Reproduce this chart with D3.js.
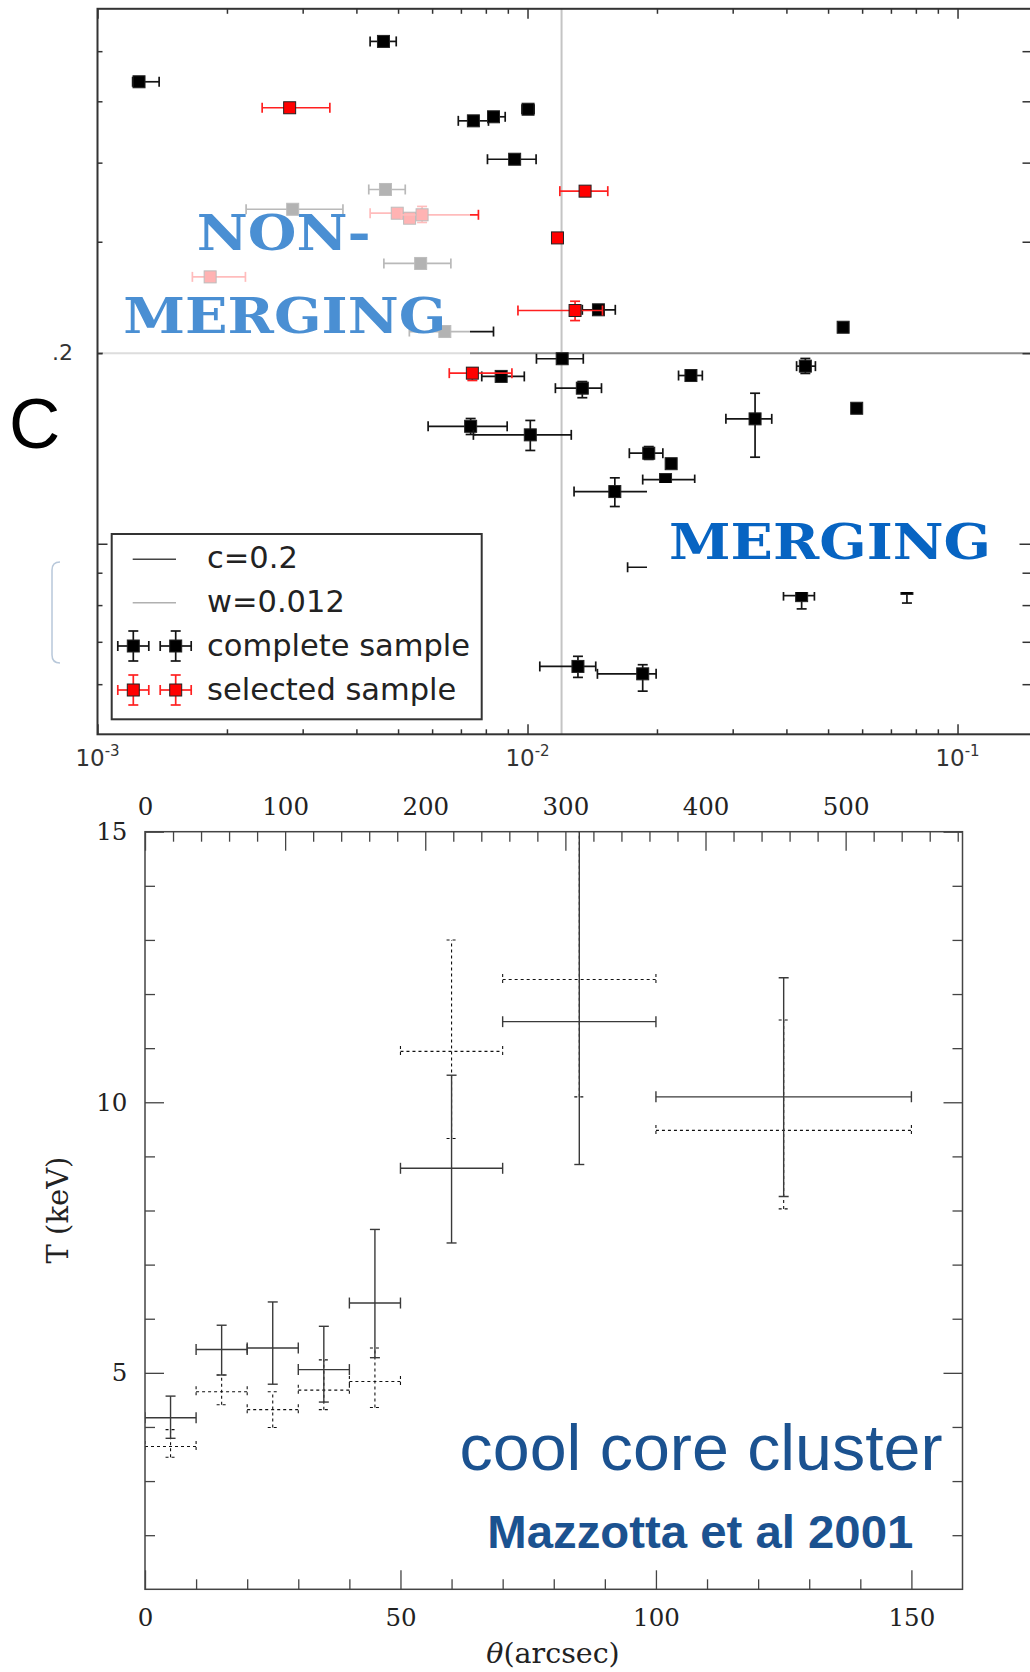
<!DOCTYPE html>
<html><head><meta charset="utf-8">
<script src="https://cdn.jsdelivr.net/npm/d3@7"></script>
<style>body{margin:0;background:#fff;} svg{display:block;}</style>
</head><body>
<svg id="chart" width="1030" height="1672"></svg>
<script>
// ================= TOP PANEL DATA (w vs c, log-log) =================
// each row: [w, wLo, wHi, c, cLo, cHi]   (null = no error bar drawn)
const completeSample = [
  [0.004624, 0.004305, 0.004951, 0.6217, null, null],
  [0.001249, 0.001207, 0.001391, 0.5368, null, null],
  [0.007484, 0.006903, 0.008113, 0.4657, null, null],
  [0.008335, 0.008113, 0.008873, 0.4726, null, null],
  [0.01003, 0.009708, 0.01036, 0.4858, null, null],
  [0.009334, 0.008070, 0.01047, 0.4050, null, null],
  [0.01462, 0.01341, 0.01600, 0.2342, null, null],
  [0.05420, null, null, 0.2198, null, null],
  [0.01204, 0.01049, 0.01348, 0.1960, null, null],
  [0.04427, 0.04224, 0.04672, 0.1908, 0.1858, 0.1962],
  [0.02399, 0.02245, 0.02550, 0.1844, null, null],
  [0.008684, 0.007827, 0.009829, 0.1838, null, null],
  [0.01341, 0.01161, 0.01486, 0.1761, 0.1701, 0.1804],
  [0.03382, 0.02893, 0.03698, 0.1575, 0.1370, 0.1729],
  [0.05828, null, null, 0.1637, null, null],
  [0.007375, 0.005873, 0.008968, 0.1533, 0.1488, 0.1577],
  [0.01015, 0.007484, 0.01264, 0.1486, 0.1404, 0.1566],
  [0.01914, 0.01725, 0.02064, 0.1390, 0.1359, 0.1424],
  [0.02158, null, null, 0.1338, null, null],
  [0.02094, 0.01853, 0.02448, 0.1263, null, null],
  [0.01596, 0.01283, 0.01911, 0.1209, 0.1145, 0.1271],
  [0.02064, 0.01709, 0.02492, 0.0918, null, null],
  [0.04340, 0.03938, 0.04647, 0.0828, 0.0789, 0.0853],
  [0.07627, null, null, 0.0850, 0.0806, 0.0875],
  [0.01310, 0.01068, 0.01441, 0.0640, 0.0615, 0.0664],
  [0.01853, 0.01454, 0.01991, 0.0623, 0.0585, 0.0644],
  [0.004674, 0.004274, 0.005196, 0.3628, null, null],
  [0.002844, 0.002216, 0.003722, 0.3376, null, null],
  [0.005643, 0.004634, 0.006634, 0.2772, null, null],
  [0.006423, 0.005311, 0.008335, 0.2164, null, null]
];
const selectedSample = [
  [0.002798, 0.002415, 0.003470, 0.4884, null, null],
  [0.01361, 0.01189, 0.01537, 0.3606, null, null],
  [0.01174, null, null, 0.3042, null, null],
  [0.01290, 0.009501, 0.01494, 0.2336, 0.2252, 0.2416],
  [0.007443, 0.006577, 0.009199, 0.1860, 0.1811, 0.1896],
  [0.004978, 0.004305, 0.005664, 0.3328, null, null],
  [0.005318, null, null, 0.3268, null, null],
  [0.005686, 0.005086, 0.007688, 0.3309, 0.3218, 0.3411],
  [0.001828, 0.001662, 0.002208, 0.2640, null, null]
];
const cThreshold = 0.2;
const wThreshold = 0.012;
const topXDomain = [0.001, 0.1486];
const topYDomain = [0.05, 0.7];
const topXMajor = [0.001, 0.01, 0.1];
const topXMinor = [0.002,0.003,0.004,0.005,0.006,0.007,0.008,0.009,0.02,0.03,0.04,0.05,0.06,0.07,0.08,0.09];
const topXLabels = [["10","-3"],["10","-2"],["10","-1"]];
const topYMajor = [0.1];
const topYMinor = [0.06,0.07,0.08,0.09,0.2,0.3,0.4,0.5,0.6];
const topYLabelValues = [0.2];
const topYLabels = [".2"];
const legendLabels = ["c=0.2", "w=0.012", "complete sample", "selected sample"];

// ================= BOTTOM PANEL DATA (T profile) =================
const thetaCenter = [5, 15, 25, 35, 45, 60, 85, 125];
const thetaLo     = [0, 10, 20, 30, 40, 50, 70, 100];
const thetaHi     = [10, 20, 30, 40, 50, 70, 100, 150];
const tempSolid   = [4.17, 5.43, 5.46, 5.06, 6.29, 8.78, 11.49, 10.10];
const tempSolidLo = [3.79, 4.96, 4.79, 4.46, 5.28, 7.40, 8.85, 8.26];
const tempSolidHi = [4.57, 5.88, 6.31, 5.86, 7.65, 10.50, 16.0, 12.30];
const tempDotted   = [3.64, 4.65, 4.32, 4.68, 4.84, 10.94, 12.27, 9.48];
const tempDottedLo = [3.44, 4.41, 3.99, 4.32, 4.36, 9.33, 10.10, 8.03];
const tempDottedHi = [3.95, 4.96, 4.65, 5.24, 5.46, 13.0, 16.0, 11.52];
const bottomXMajor = [0, 50, 100, 150];
const bottomXMinor = [10,20,30,40,60,70,80,90,110,120,130,140];
const bottomTopMajor = [0, 100, 200, 300, 400, 500];
const bottomTopMinor = [20,40,60,80,120,140,160,180,220,240,260,280,320,340,360,380,420,440,460,480,520,540,560,580];
const bottomYMajor = [5, 10, 15];
const bottomYMinor = [2,3,4,6,7,8,9,11,12,13,14];

// ================= DRAWING =================
const svg = d3.select("#chart");

// ---------- top panel ----------
const X0 = 97.5, X1 = 1031.5, Y0 = 8.8, Y1 = 734.3;
const x = d3.scaleLog().domain(topXDomain).range([X0, X1]);
const y = d3.scaleLog().domain(topYDomain).range([Y1, Y0]);
const topG = svg.append("g");

// reference lines
topG.append("line").attr("x1", X0).attr("x2", X1).attr("y1", y(cThreshold)).attr("y2", y(cThreshold))
  .attr("stroke", "#8c8c8c").attr("stroke-width", 2);
topG.append("line").attr("x1", x(wThreshold)).attr("x2", x(wThreshold)).attr("y1", Y0).attr("y2", Y1)
  .attr("stroke", "#c4c4c4").attr("stroke-width", 2);

function drawPoints(data, lineColor, fill) {
  const g = topG.append("g");
  data.forEach(d => {
    const [w, wl, wh, c, cl, ch] = d;
    const px = x(w), py = y(c);
    if (wl !== null) {
      g.append("line").attr("x1", x(wl)).attr("x2", x(wh)).attr("y1", py).attr("y2", py)
        .attr("stroke", lineColor).attr("stroke-width", 1.7);
      [wl, wh].forEach(v => g.append("line").attr("x1", x(v)).attr("x2", x(v)).attr("y1", py - 5).attr("y2", py + 5)
        .attr("stroke", lineColor).attr("stroke-width", 1.7));
    }
    if (cl !== null) {
      g.append("line").attr("x1", px).attr("x2", px).attr("y1", y(cl)).attr("y2", y(ch))
        .attr("stroke", lineColor).attr("stroke-width", 1.7);
      [cl, ch].forEach(v => g.append("line").attr("x1", px - 5).attr("x2", px + 5).attr("y1", y(v)).attr("y2", y(v))
        .attr("stroke", lineColor).attr("stroke-width", 1.7));
    }
    g.append("rect").attr("x", px - 6).attr("y", py - 6).attr("width", 12).attr("height", 12)
      .attr("fill", fill).attr("stroke", "#222").attr("stroke-width", 1);
  });
}
drawPoints(completeSample, "#141414", "#000");
drawPoints(selectedSample, "#ff2020", "#ff0000");

// translucent box behind NON-MERGING label
topG.append("rect").attr("x", 103).attr("y", 172).attr("width", 367).attr("height", 188)
  .attr("fill", "#fff").attr("opacity", 0.7);
// opaque box behind MERGING label
topG.append("rect").attr("x", 647).attr("y", 483).attr("width", 390).attr("height", 109)
  .attr("fill", "#fff");

// frame
topG.append("rect").attr("x", X0).attr("y", Y0).attr("width", X1 - X0).attr("height", Y1 - Y0)
  .attr("fill", "none").attr("stroke", "#333").attr("stroke-width", 2);

function ticks(g, axis, values, size, color, width) {
  g.call(axis.tickValues(values).tickSize(size).tickSizeOuter(0).tickFormat(""));
  g.select(".domain").remove();
  g.selectAll(".tick line").attr("stroke", color).attr("stroke-width", width);
}
const tc = "#333";
ticks(topG.append("g").attr("transform", `translate(0,${Y1})`), d3.axisBottom(x), topXMajor, -10, tc, 1.5);
ticks(topG.append("g").attr("transform", `translate(0,${Y1})`), d3.axisBottom(x), topXMinor, -5, tc, 1.5);
ticks(topG.append("g").attr("transform", `translate(0,${Y0})`), d3.axisTop(x), topXMajor, -10, tc, 1.5);
ticks(topG.append("g").attr("transform", `translate(0,${Y0})`), d3.axisTop(x), topXMinor, -5, tc, 1.5);
ticks(topG.append("g").attr("transform", `translate(${X0},0)`), d3.axisLeft(y), topYMajor, -10, tc, 1.5);
ticks(topG.append("g").attr("transform", `translate(${X0},0)`), d3.axisLeft(y), topYMinor, -5, tc, 1.5);
ticks(topG.append("g").attr("transform", `translate(${X1},0)`), d3.axisRight(y), topYMajor, -12, tc, 1.5);
ticks(topG.append("g").attr("transform", `translate(${X1},0)`), d3.axisRight(y), topYMinor, -9, tc, 1.5);

// x tick labels with superscripts
topXMajor.forEach((v, i) => {
  const t = topG.append("text").attr("x", x(v)).attr("y", 766).attr("text-anchor", "middle")
    .attr("font-family", "DejaVu Sans").attr("font-size", 23).attr("fill", "#333");
  t.append("tspan").text(topXLabels[i][0]);
  t.append("tspan").attr("dy", -10).attr("font-size", 15).text(topXLabels[i][1]);
});
topYLabelValues.forEach((v, i) => {
  topG.append("text").attr("x", 73).attr("y", y(v) + 7).attr("text-anchor", "end")
    .attr("font-family", "DejaVu Sans").attr("font-size", 22).attr("fill", "#333").text(topYLabels[i]);
});

// big "C"
svg.append("text").attr("x", 9).attr("y", 448).attr("font-family", "Liberation Sans, Arial")
  .attr("font-size", 71).attr("fill", "#000").text("C");
// faint bracket remnant
svg.append("path").attr("d", "M60,562 Q52,562 52,570 L52,655 Q52,663 60,663")
  .attr("fill", "none").attr("stroke", "#b8c8da").attr("stroke-width", 1.5);

// labels
const capFont = "DejaVu Serif";
topG.append("text").attr("x", 196.7).attr("y", 250).attr("font-family", capFont).attr("font-weight", "bold")
  .attr("font-size", 48).attr("fill", "#4a8fd3").attr("textLength", 174).attr("lengthAdjust", "spacingAndGlyphs").text("NON-");
topG.append("text").attr("x", 123.3).attr("y", 332.7).attr("font-family", capFont).attr("font-weight", "bold")
  .attr("font-size", 48).attr("fill", "#4a8fd3").attr("textLength", 323).attr("lengthAdjust", "spacingAndGlyphs").text("MERGING");
topG.append("text").attr("x", 669).attr("y", 559.3).attr("font-family", capFont).attr("font-weight", "bold")
  .attr("font-size", 48).attr("fill", "#0764c2").attr("textLength", 322).attr("lengthAdjust", "spacingAndGlyphs").text("MERGING");

// legend
const lg = topG.append("g");
lg.append("rect").attr("x", 111.7).attr("y", 534).attr("width", 370).attr("height", 185.3)
  .attr("fill", "#fff").attr("stroke", "#333").attr("stroke-width", 2);
lg.append("line").attr("x1", 132.7).attr("x2", 176).attr("y1", 559.3).attr("y2", 559.3).attr("stroke", "#444").attr("stroke-width", 1.5);
lg.append("line").attr("x1", 132.7).attr("x2", 176).attr("y1", 602.7).attr("y2", 602.7).attr("stroke", "#b0b0b0").attr("stroke-width", 1.5);
function legendHandle(cx, cy, lineColor, fill) {
  lg.append("line").attr("x1", cx - 15.5).attr("x2", cx + 15.5).attr("y1", cy).attr("y2", cy).attr("stroke", lineColor).attr("stroke-width", 1.7);
  lg.append("line").attr("x1", cx).attr("x2", cx).attr("y1", cy - 15).attr("y2", cy + 15).attr("stroke", lineColor).attr("stroke-width", 1.7);
  [-15.5, 15.5].forEach(o => lg.append("line").attr("x1", cx + o).attr("x2", cx + o).attr("y1", cy - 5).attr("y2", cy + 5).attr("stroke", lineColor).attr("stroke-width", 1.7));
  [-15, 15].forEach(o => lg.append("line").attr("x1", cx - 5).attr("x2", cx + 5).attr("y1", cy + o).attr("y2", cy + o).attr("stroke", lineColor).attr("stroke-width", 1.7));
  lg.append("rect").attr("x", cx - 6).attr("y", cy - 6).attr("width", 12).attr("height", 12).attr("fill", fill).attr("stroke", "#222");
}
[133.3, 175.7].forEach(cx => { legendHandle(cx, 646, "#141414", "#000"); legendHandle(cx, 690, "#ff2020", "#ff0000"); });
const legendBase = [568, 612, 656, 700];
legendLabels.forEach((t, i) => {
  lg.append("text").attr("x", 207).attr("y", legendBase[i]).attr("font-family", "DejaVu Sans")
    .attr("font-size", 30.5).attr("fill", "#222").text(t);
});

// ---------- bottom panel ----------
const BX0 = 145, BX1 = 962.5, BY0 = 831.7, BY1 = 1589.3;
const xb = d3.scaleLinear().domain([0, 160]).range([BX0, BX1]);
const xt = d3.scaleLinear().domain([0, 583.4]).range([BX0, BX1]);
const yb = d3.scaleLinear().domain([1, 15]).range([BY1, BY0]);
const bot = svg.append("g");
svg.append("defs").append("clipPath").attr("id", "bclip").append("rect")
  .attr("x", BX0).attr("y", BY0).attr("width", BX1 - BX0).attr("height", BY1 - BY0);
const plot = bot.append("g").attr("clip-path", "url(#bclip)");

function errSeries(T, TLo, THi, color, width, dash) {
  thetaCenter.forEach((tc0, i) => {
    const px = xb(tc0), py = yb(T[i]);
    const attrs = sel => sel.attr("stroke", color).attr("stroke-width", width).attr("stroke-dasharray", dash);
    attrs(plot.append("line").attr("x1", xb(thetaLo[i])).attr("x2", xb(thetaHi[i])).attr("y1", py).attr("y2", py));
    [thetaLo[i], thetaHi[i]].forEach(v => attrs(plot.append("line").attr("x1", xb(v)).attr("x2", xb(v)).attr("y1", py - 5.5).attr("y2", py + 5.5)));
    attrs(plot.append("line").attr("x1", px).attr("x2", px).attr("y1", yb(TLo[i])).attr("y2", yb(THi[i])));
    [TLo[i], THi[i]].forEach(v => attrs(plot.append("line").attr("x1", px - 5).attr("x2", px + 5).attr("y1", yb(v)).attr("y2", yb(v))));
  });
}
errSeries(tempDotted, tempDottedLo, tempDottedHi, "#111", 1.1, "3,3");
errSeries(tempSolid, tempSolidLo, tempSolidHi, "#3a3a3a", 1.4, null);

bot.append("rect").attr("x", BX0).attr("y", BY0).attr("width", BX1 - BX0).attr("height", BY1 - BY0)
  .attr("fill", "none").attr("stroke", "#444").attr("stroke-width", 1.5);

const bc = "#444";
function labelAxis(g, axis, values, size, pad) {
  g.call(axis.tickValues(values).tickSize(size).tickSizeOuter(0).tickPadding(pad));
  g.select(".domain").remove();
  g.selectAll(".tick line").attr("stroke", bc).attr("stroke-width", 1.3);
  g.selectAll("text").attr("font-family", "DejaVu Serif").attr("font-size", 24.5).attr("fill", "#222");
}
labelAxis(bot.append("g").attr("transform", `translate(0,${BY1})`), d3.axisBottom(xb).tickFormat(d3.format("d")), bottomXMajor, -19, 19.4);
ticks(bot.append("g").attr("transform", `translate(0,${BY1})`), d3.axisBottom(xb), bottomXMinor, -10, bc, 1.3);
labelAxis(bot.append("g").attr("transform", `translate(0,${BY0})`), d3.axisTop(xt).tickFormat(d3.format("d")), bottomTopMajor, -19, 16.7);
ticks(bot.append("g").attr("transform", `translate(0,${BY0})`), d3.axisTop(xt), bottomTopMinor, -10, bc, 1.3);
labelAxis(bot.append("g").attr("transform", `translate(${BX0},0)`), d3.axisLeft(yb).tickFormat(d3.format("d")), bottomYMajor, -19, 17.6);
ticks(bot.append("g").attr("transform", `translate(${BX0},0)`), d3.axisLeft(yb), bottomYMinor, -10, bc, 1.3);
ticks(bot.append("g").attr("transform", `translate(${BX1},0)`), d3.axisRight(yb), bottomYMajor, -19, bc, 1.3);
ticks(bot.append("g").attr("transform", `translate(${BX1},0)`), d3.axisRight(yb), bottomYMinor, -10, bc, 1.3);

// axis titles
bot.append("text").attr("transform", "translate(68,1210) rotate(-90)").attr("text-anchor", "middle")
  .attr("font-family", "DejaVu Serif").attr("font-size", 29).attr("fill", "#222").text("T (keV)");
const xt1 = bot.append("text").attr("x", 553).attr("y", 1663.3).attr("text-anchor", "middle")
  .attr("font-family", "DejaVu Serif").attr("font-size", 28.5).attr("fill", "#222");
xt1.append("tspan").attr("font-style", "italic").text("θ");
xt1.append("tspan").text("(arcsec)");

// annotations
bot.append("text").attr("x", 459.6).attr("y", 1470).attr("font-family", "Liberation Sans, Arial")
  .attr("font-size", 65).attr("fill", "#1b5290").attr("textLength", 483).attr("lengthAdjust", "spacingAndGlyphs").text("cool core cluster");
bot.append("text").attr("x", 487.3).attr("y", 1548.3).attr("font-family", "Liberation Sans, Arial").attr("font-weight", "bold")
  .attr("font-size", 47).attr("fill", "#1b5290").attr("textLength", 426).attr("lengthAdjust", "spacingAndGlyphs").text("Mazzotta et al 2001");
</script>
</body></html>
